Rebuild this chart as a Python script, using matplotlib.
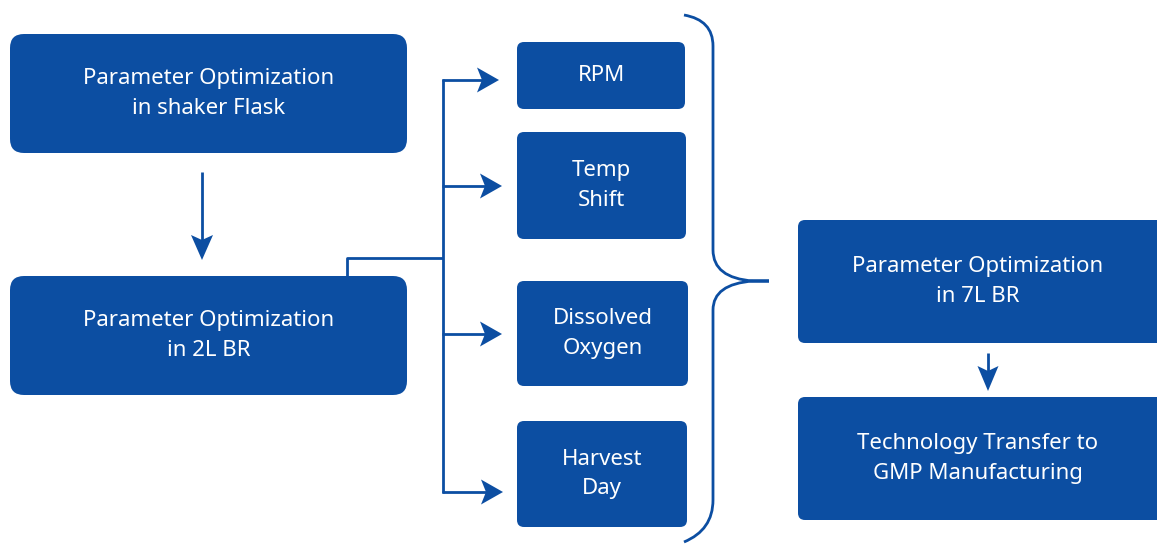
import numpy as np
import matplotlib.pyplot as plt
from matplotlib.patches import FancyBboxPatch, Polygon, PathPatch
from matplotlib.path import Path

plt.rcParams['font.family'] = ['Noto Sans', 'DejaVu Sans']

# flowchart texts
main_labels = ['Parameter Optimization\nin shaker Flask', 'Parameter Optimization\nin 2L BR']
param_labels = ['RPM', 'Temp\nShift', 'Dissolved\nOxygen', 'Harvest\nDay']
right_labels = ['Parameter Optimization\nin 7L BR', 'Technology Transfer to\nGMP Manufacturing']

blue = '#0c4ea2'

# box geometry in pixels (x0, y0, x1, y1)
main_boxes = [(10, 34, 407, 153), (10, 276, 407, 395)]
param_boxes = [(517, 42, 685, 109), (517, 132, 686, 239), (517, 281, 688, 386), (517, 421, 687, 527)]
right_boxes = [(798, 220, 1170, 343), (798, 397, 1170, 520)]

fig = plt.figure(figsize=(11.57, 5.44), dpi=100)
ax = fig.add_axes([0, 0, 1, 1])
ax.set_xlim(0, 1157)
ax.set_ylim(544, 0)
ax.axis('off')


def box(b, text, r):
    x0, y0, x1, y1 = b
    ax.add_patch(FancyBboxPatch((x0, y0), x1 - x0, y1 - y0,
                                boxstyle=f'round,pad=0,rounding_size={r}',
                                fc=blue, ec='none'))
    cx = (x0 + min(x1, 1157)) / 2
    ax.text(cx, (y0 + y1) / 2, text, color='white', fontsize=16,
            ha='center', va='center', linespacing=1.55)


for b, t in zip(main_boxes, main_labels):
    box(b, t, 14)
for b, t in zip(param_boxes, param_labels):
    box(b, t, 7)
for b, t in zip(right_boxes, right_labels):
    box(b, t, 7)


def arrow(p0, p1, hl=22, hw=12.5, notch=5):
    p0 = np.array(p0, float)
    p1 = np.array(p1, float)
    d = (p1 - p0) / np.linalg.norm(p1 - p0)
    n = np.array([-d[1], d[0]])
    back = p1 - d * hl
    ax.plot([p0[0], back[0] + d[0] * notch], [p0[1], back[1] + d[1] * notch],
            color=blue, lw=2, solid_capstyle='butt')
    pts = [p1, back + n * hw, back + d * notch, back - n * hw]
    ax.add_patch(Polygon(pts, closed=True, fc=blue, ec='none'))


# vertical arrows
arrow((202, 172), (202, 260), hl=25, hw=11)
arrow((988, 353), (988, 391), hl=25, hw=10.5)

# connector from 2L box to the branch line
ax.plot([347, 347, 443], [276, 258, 258], color=blue, lw=2, solid_capstyle='butt')
ax.plot([443, 443], [79, 493], color=blue, lw=2, solid_capstyle='butt')
for y, tip in zip([80, 186, 334, 492], [499, 502, 502, 503]):
    arrow((442, y), (tip, y))

# curly brace
verts = [(684, 15), (713, 20), (713, 46), (713, 46),
         (713, 250), (713, 250), (713, 278), (753, 281),
         (769, 281), (753, 281), (713, 284), (713, 310),
         (713, 500), (713, 500), (713, 530), (684, 542)]
codes = [Path.MOVETO, Path.CURVE3, Path.CURVE3, Path.LINETO,
         Path.LINETO, Path.LINETO, Path.CURVE3, Path.CURVE3,
         Path.LINETO, Path.LINETO, Path.CURVE3, Path.CURVE3,
         Path.LINETO, Path.LINETO, Path.CURVE3, Path.CURVE3]
ax.add_patch(PathPatch(Path(verts, codes), fc='none', ec=blue, lw=2))

fig.savefig('out.png', dpi=100)
